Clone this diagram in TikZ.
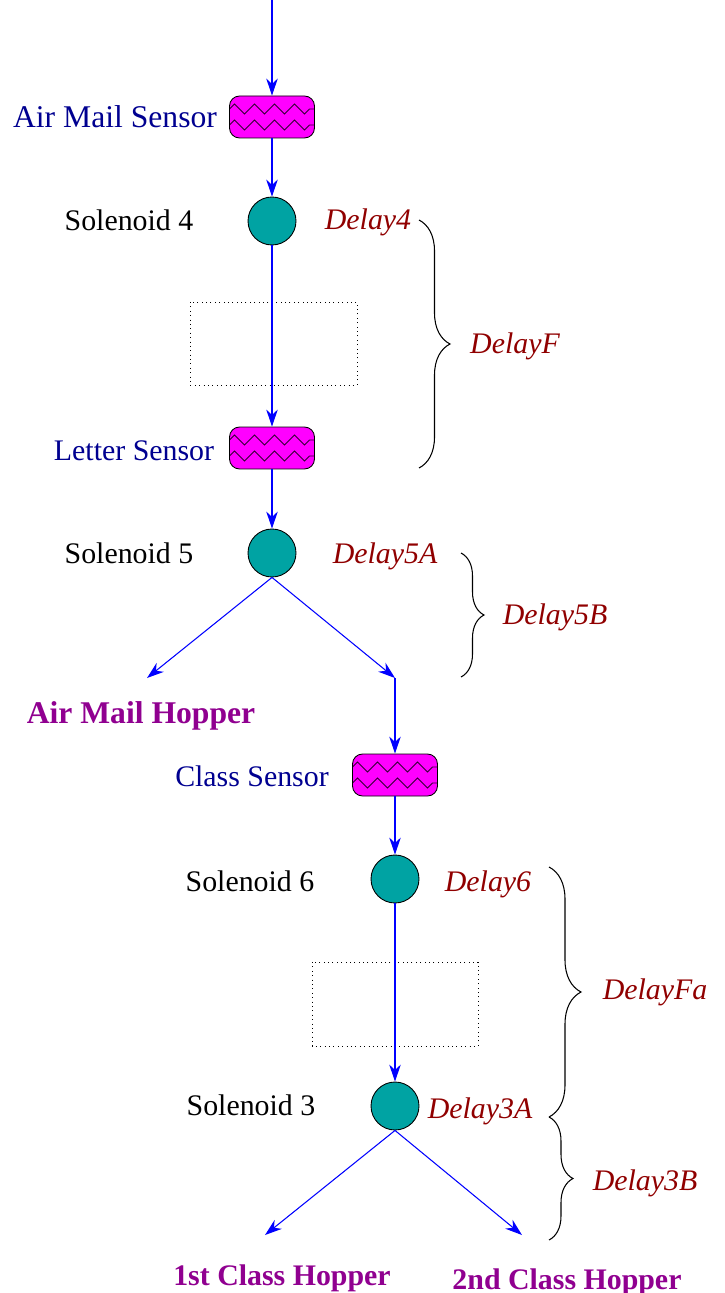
\documentclass[tikz,border=0pt]{standalone}
\usepackage{fontspec}
\setmainfont{Liberation Serif}
\usetikzlibrary{arrows.meta,decorations.pathmorphing,decorations.pathreplacing}

\definecolor{sensorfill}{RGB}{255,0,255}
\definecolor{solfill}{RGB}{0,163,163}
\definecolor{sensorblue}{RGB}{0,0,144}
\definecolor{delayred}{RGB}{144,0,0}
\definecolor{hopperpurple}{RGB}{144,0,144}

\tikzset{
  txt/.style={font=\fontsize{17}{20}\selectfont, inner sep=0pt, anchor=base},
  big/.style={font=\fontsize{18}{21}\selectfont},
  sensor/.style={draw=black, line width=0.5pt, fill=sensorfill, rounded corners=0.2cm,
    minimum width=1.7cm, minimum height=0.84cm,
    path picture={
      \foreach \dy in {0.16,-0.16}
        \draw[sharp corners, line width=0.45pt, black!80!sensorfill, decorate,
              decoration={zigzag, segment length=0.4cm, amplitude=0.1cm}]
          ([yshift=\dy cm]path picture bounding box.west) --
          ([yshift=\dy cm]path picture bounding box.east);
    }},
  solenoid/.style={circle, draw=black, line width=0.5pt, fill=solfill, minimum size=0.96cm, inner sep=0pt},
  flow/.style={draw=blue, line width=0.6pt, -{Stealth[length=3.4mm,width=2.3mm]}},
  sensorlabel/.style={txt, text=sensorblue},
  sollabel/.style={txt, text=black},
  delaylabel/.style={txt, text=delayred, font=\fontsize{17}{20}\selectfont\itshape},
  hopperlabel/.style={txt, text=hopperpurple, font=\fontsize{17}{20}\selectfont\bfseries},
  timingbrace/.style={draw=black, line width=0.6pt, decorate, decoration={brace, amplitude=#1}},
  blankbox/.style={draw=black, line width=0.5pt, dotted}
}

\begin{document}
\begin{tikzpicture}[x=0.02cm, y=-0.02cm]
  \useasboundingbox (0,0) rectangle (724,1293);

  % first stage: air mail
  \coordinate (feed) at (272,0);
  \node[sensor] (airsensor) at (272,117) {};
  \node[solenoid] (sol4) at (272,221) {};
  \node[sensor] (lettersensor) at (272,448) {};
  \node[solenoid] (sol5) at (272,553) {};
  \coordinate (amhopper) at (147,678);
  \coordinate (bend) at (395,678);

  % second stage: class
  \node[sensor] (classsensor) at (395,775) {};
  \node[solenoid] (sol6) at (395,879) {};
  \node[solenoid] (sol3) at (395,1106) {};
  \coordinate (hopperone) at (265,1235);
  \coordinate (hoppertwo) at (522,1235);

  % spacers
  \draw[blankbox] (190,302) rectangle (357,385);
  \draw[blankbox] (312,962) rectangle (478,1046);

  % mail path
  \draw[flow] (feed) -- (airsensor);
  \draw[flow] (airsensor) -- (sol4);
  \draw[flow] (sol4) -- (lettersensor);
  \draw[flow] (lettersensor) -- (sol5);
  \draw[flow] (sol5.south) -- (amhopper);
  \draw[flow] (sol5.south) -- (bend);
  \draw[flow] (bend) -- (classsensor);
  \draw[flow] (classsensor) -- (sol6);
  \draw[flow] (sol6) -- (sol3);
  \draw[flow] (sol3.south) -- (hopperone);
  \draw[flow] (sol3.south) -- (hoppertwo);

  % labels
  \node[sensorlabel, big] (lblair) at (115,128) {Air Mail Sensor};
  \node[sensorlabel] (lblletter) at (134,460) {Letter Sensor};
  \node[sensorlabel] (lblclass) at (252,786) {Class Sensor};
  \node[sollabel] (lblsol4) at (129,231) {Solenoid 4};
  \node[sollabel] (lblsol5) at (129,563) {Solenoid 5};
  \node[sollabel] (lblsol6) at (250,891) {Solenoid 6};
  \node[sollabel] (lblsol3) at (251,1115) {Solenoid 3};
  \node[hopperlabel, font=\fontsize{18}{21}\selectfont\bfseries] (lblamh) at (141,723) {Air Mail Hopper};
  \node[hopperlabel] (lblfirst) at (282,1285) {1st Class Hopper};
  \node[hopperlabel] (lblsecond) at (567,1289) {2nd Class Hopper};

  % timing
  \node[delaylabel] (d4) at (368,230) {Delay4};
  \node[delaylabel] (d5a) at (385,563) {Delay5A};
  \node[delaylabel] (d6) at (488,891) {Delay6};
  \node[delaylabel] (d3a) at (480,1118) {Delay3A};
  \node[delaylabel] (df) at (515,354) {DelayF};
  \node[delaylabel] (d5b) at (555,624) {Delay5B};
  \node[delaylabel] (dfa) at (655,999) {DelayFa};
  \node[delaylabel] (d3b) at (645,1190) {Delay3B};

  \coordinate (bfTop) at (419,220);
  \coordinate (bfBot) at (419,468);
  \coordinate (b5Top) at (461,553);
  \coordinate (b5Bot) at (461,677);
  \coordinate (bfaTop) at (549,867);
  \coordinate (bfaBot) at (549,1117);
  \coordinate (b3Bot) at (549,1240);
  \draw[timingbrace=0.62cm] (bfTop) -- (bfBot);
  \draw[timingbrace=0.46cm] (b5Top) -- (b5Bot);
  \draw[timingbrace=0.64cm] (bfaTop) -- (bfaBot);
  \draw[timingbrace=0.48cm] (bfaBot) -- (b3Bot);
\end{tikzpicture}
\end{document}
